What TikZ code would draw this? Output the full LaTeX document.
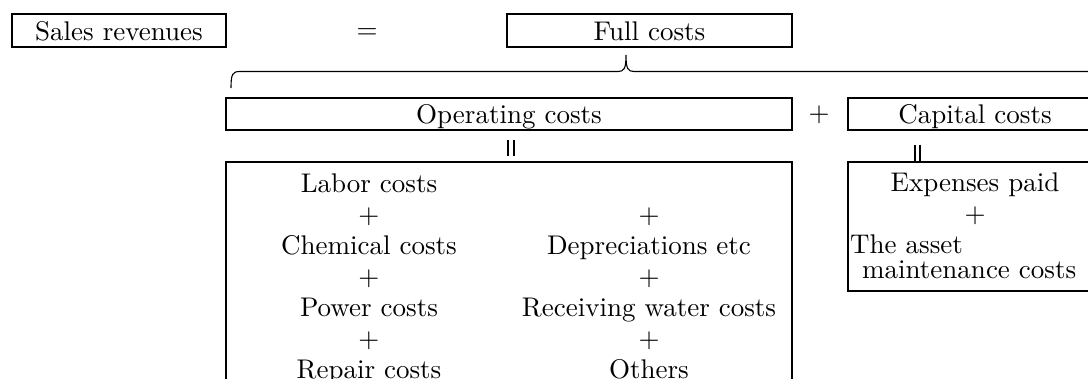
\documentclass[tikz,border=0pt]{standalone}
\usepackage{fontspec}
% the 10pt design of Latin Modern, kept at every size for sturdier glyphs
\setmainfont{lmroman10-regular.otf}
\tikzset{
  txt/.style={font=\fontsize{27}{31}\selectfont},
  box/.style={draw, line width=1.8pt, inner sep=0pt, txt,
              text height=19.5pt, text depth=0pt},
  frame/.style={draw, line width=1.8pt, inner sep=0pt},
  lbl/.style={txt, inner sep=0pt, anchor=base},
  lblw/.style={txt, inner sep=0pt, anchor=base west},
  thinline/.style={line width=1.1pt},
}
\begin{document}
\begin{tikzpicture}[x=1pt,y=-1pt]
\clip (0,0) rectangle (1088,379);

% top equation
\node[box, minimum width=214pt, minimum height=33pt] (sales) at (119,30.5) {Sales revenues};
\node[lbl] (eq) at (367,38.75) {=};
\node[box, minimum width=285pt, minimum height=33pt] (full) at (649.5,30.5) {Full costs};

% brace under the full costs
\coordinate (braceL) at (231,88);
\coordinate (braceTip) at (626,55);
\coordinate (braceR) at (1100,71.5);
\draw[thinline] (braceL) .. controls (231,74) and (232.5,71.5) .. (240,71.5)
  -- (618,71.5) .. controls (624,71.5) and (626,69) .. (braceTip)
  .. controls (626,69) and (628,71.5) .. (634,71.5) -- (braceR);

% second row
\node[box, minimum width=566pt, minimum height=32pt] (op) at (509,114) {Operating costs};
\node[lbl] (plus) at (819,122) {+};
\node[box, minimum width=254pt, minimum height=32pt] (cap) at (975,114) {Capital costs};

% equality bars
\coordinate (opbar) at (511,140);
\draw[thinline] ([xshift=-3pt]opbar) -- ++(0,16) ([xshift=3pt]opbar) -- ++(0,16);
\coordinate (capbar) at (917.5,145);
\draw[thinline] ([xshift=-2.5pt]capbar) -- ++(0,17) ([xshift=2.5pt]capbar) -- ++(0,17);

% operating cost breakdown
\node[frame, minimum width=566pt, minimum height=258pt] (opbox) at (509,291) {};
\node[lbl] (labor) at (369,193) {Labor costs};
\node[lbl] (lp1) at (369,224) {+};
\node[lbl] (chem) at (369,255) {Chemical costs};
\node[lbl] (lp2) at (369,286) {+};
\node[lbl] (power) at (369,317) {Power costs};
\node[lbl] (lp3) at (369,348) {+};
\node[lbl] (repair) at (369,379) {Repair costs};
\node[lbl] (rp1) at (649,224) {+};
\node[lbl] (depr) at (649,255) {Depreciations etc};
\node[lbl] (rp2) at (649,286) {+};
\node[lbl] (recv) at (649,317) {Receiving water costs};
\node[lbl] (rp3) at (649,348) {+};
\node[lbl] (others) at (649,379) {Others};

% capital cost breakdown
\node[frame, minimum width=254pt, minimum height=129pt] (capbox) at (975,226.5) {};
\node[lbl] (paid) at (975,192) {Expenses paid};
\node[lbl] (cp1) at (975,223) {+};
\node[lblw] (asset) at (850,254) {The asset};
\node[lblw] (maint) at (862,279) {maintenance costs};
\end{tikzpicture}
\end{document}
